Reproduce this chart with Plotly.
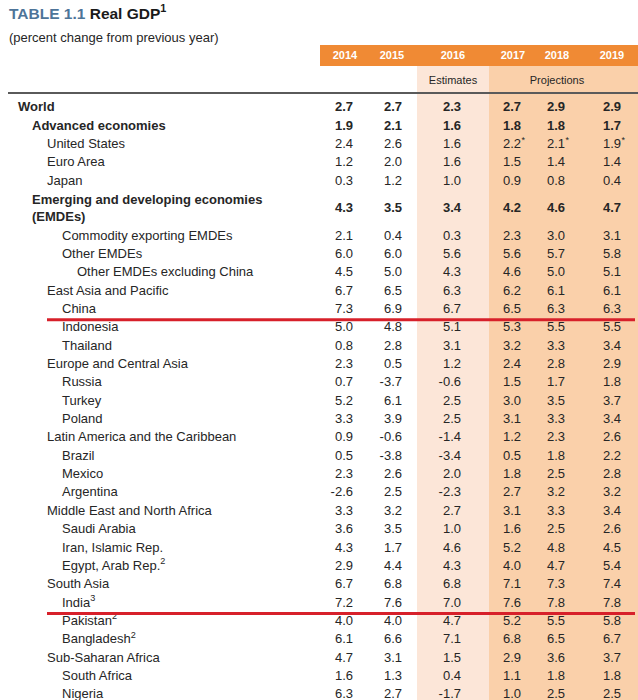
import plotly.graph_objects as go

# ---------------- data ----------------
years = ["2014", "2015", "2016", "2017", "2018", "2019"]
row_labels = [
    "World", "Advanced economies", "United States", "Euro Area", "Japan",
    "Emerging and developing economies<br>(EMDEs)",
    "Commodity exporting EMDEs", "Other EMDEs", "Other EMDEs excluding China",
    "East Asia and Pacific", "China", "Indonesia", "Thailand",
    "Europe and Central Asia", "Russia", "Turkey", "Poland",
    "Latin America and the Caribbean", "Brazil", "Mexico", "Argentina",
    "Middle East and North Africa", "Saudi Arabia", "Iran, Islamic Rep.", "Egypt, Arab Rep.",
    "South Asia", "India", "Pakistan", "Bangladesh",
    "Sub-Saharan Africa", "South Africa", "Nigeria",
]
row_level = [0, 1, 2, 2, 2, 1, 3, 3, 4, 2, 3, 3, 3, 2, 3, 3, 3, 2, 3, 3, 3,
             2, 3, 3, 3, 2, 3, 3, 3, 2, 3, 3]
row_bold = [True, True, False, False, False, True] + [False] * 26
label_notes = {"Egypt, Arab Rep.": "2", "India": "3", "Pakistan": "2", "Bangladesh": "2"}
value_notes = {"United States": ["", "", "", "*", "*", "*"]}

v2014 = [2.7, 1.9, 2.4, 1.2, 0.3, 4.3, 2.1, 6.0, 4.5, 6.7, 7.3, 5.0, 0.8, 2.3, 0.7, 5.2, 3.3,
         0.9, 0.5, 2.3, -2.6, 3.3, 3.6, 4.3, 2.9, 6.7, 7.2, 4.0, 6.1, 4.7, 1.6, 6.3]
v2015 = [2.7, 2.1, 2.6, 2.0, 1.2, 3.5, 0.4, 6.0, 5.0, 6.5, 6.9, 4.8, 2.8, 0.5, -3.7, 6.1, 3.9,
         -0.6, -3.8, 2.6, 2.5, 3.2, 3.5, 1.7, 4.4, 6.8, 7.6, 4.0, 6.6, 3.1, 1.3, 2.7]
v2016 = [2.3, 1.6, 1.6, 1.6, 1.0, 3.4, 0.3, 5.6, 4.3, 6.3, 6.7, 5.1, 3.1, 1.2, -0.6, 2.5, 2.5,
         -1.4, -3.4, 2.0, -2.3, 2.7, 1.0, 4.6, 4.3, 6.8, 7.0, 4.7, 7.1, 1.5, 0.4, -1.7]
v2017 = [2.7, 1.8, 2.2, 1.5, 0.9, 4.2, 2.3, 5.6, 4.6, 6.2, 6.5, 5.3, 3.2, 2.4, 1.5, 3.0, 3.1,
         1.2, 0.5, 1.8, 2.7, 3.1, 1.6, 5.2, 4.0, 7.1, 7.6, 5.2, 6.8, 2.9, 1.1, 1.0]
v2018 = [2.9, 1.8, 2.1, 1.4, 0.8, 4.6, 3.0, 5.7, 5.0, 6.1, 6.3, 5.5, 3.3, 2.8, 1.7, 3.5, 3.3,
         2.3, 1.8, 2.5, 3.2, 3.3, 2.5, 4.8, 4.7, 7.3, 7.8, 5.5, 6.5, 3.6, 1.8, 2.5]
v2019 = [2.9, 1.7, 1.9, 1.4, 0.4, 4.7, 3.1, 5.8, 5.1, 6.1, 6.3, 5.5, 3.4, 2.9, 1.8, 3.7, 3.4,
         2.6, 2.2, 2.8, 3.2, 3.4, 2.6, 4.5, 5.4, 7.4, 7.8, 5.8, 6.7, 3.7, 1.8, 2.5]
values = [v2014, v2015, v2016, v2017, v2018, v2019]
highlight_rows = ["China", "India"]

# ---------------- layout / style ----------------
W, H = 638, 700
FONT = "Liberation Sans, Arial, Helvetica, sans-serif"
TXT = "#262626"
ORANGE = "#f08a34"
SHADE_EST = "#fce6d8"
SHADE_PROJ = "#fad0aa"
RED = "#d7202a"

col_right = [353, 402, 461, 521, 565, 621]      # right edges of value columns
col_head = [345, 392, 453, 513, 557, 612]       # header label centres
indent_x = [18, 32, 47, 62, 77]
shade_est = (417, 489)
shade_proj = (489, W)

# y axis in "text line" units
PITCH = 18.344
Y0_PX = 106.0
TEXT_DY = 2.0 / PITCH
def px2row(p):
    return (p - Y0_PX) / PITCH

# row positions from line counts (two-line label takes two lines)
row_y = []
line = 0
for lab in row_labels:
    n = lab.count("<br>") + 1
    row_y.append(line + (n - 1) / 2 + TEXT_DY)
    line += n

fig = go.Figure()

# shading and header band
fig.add_shape(type="rect", x0=shade_est[0], x1=shade_est[1], y0=px2row(66), y1=px2row(H),
              fillcolor=SHADE_EST, line_width=0, layer="below")
fig.add_shape(type="rect", x0=shade_proj[0], x1=shade_proj[1], y0=px2row(66), y1=px2row(H),
              fillcolor=SHADE_PROJ, line_width=0, layer="below")
fig.add_shape(type="rect", x0=320, x1=W, y0=px2row(45), y1=px2row(66),
              fillcolor=ORANGE, line_width=0, layer="below")
fig.add_shape(type="line", x0=8, x1=W, y0=px2row(93), y1=px2row(93),
              line=dict(color="#5a5a5a", width=2))

# labels
lab_text = []
for lab, b in zip(row_labels, row_bold):
    t = lab + (f"<sup>{label_notes[lab]}</sup>" if lab in label_notes else "")
    lab_text.append(f"<b>{t}</b>" if b else t)
fig.add_trace(go.Scatter(
    x=[indent_x[l] for l in row_level], y=row_y, text=lab_text, mode="text",
    textposition="middle right", textfont=dict(family=FONT, size=13, color=TXT),
    hoverinfo="skip", showlegend=False, cliponaxis=False))

# values
for ci, (yr, vals) in enumerate(zip(years, values)):
    txt = [f"<b>{v:.1f}</b>" if b else f"{v:.1f}" for v, b in zip(vals, row_bold)]
    fig.add_trace(go.Scatter(
        x=[col_right[ci]] * len(vals), y=row_y, text=txt, mode="text",
        textposition="middle left", textfont=dict(family=FONT, size=13, color=TXT),
        hoverinfo="skip", showlegend=False, cliponaxis=False))
    # footnote asterisks
    nx, ny, nt = [], [], []
    for lab, y in zip(row_labels, row_y):
        if lab in value_notes and value_notes[lab][ci]:
            nx.append(col_right[ci] + 0.5)
            ny.append(y - 0.22)
            nt.append(value_notes[lab][ci])
    if nx:
        fig.add_trace(go.Scatter(
            x=nx, y=ny, text=nt, mode="text", textposition="middle right",
            textfont=dict(family=FONT, size=9, color=TXT),
            hoverinfo="skip", showlegend=False, cliponaxis=False))

# header years
fig.add_trace(go.Scatter(
    x=col_head, y=[px2row(56)] * len(years), text=[f"<b>{y}</b>" for y in years],
    mode="text", textposition="middle center",
    textfont=dict(family=FONT, size=11, color="white"),
    hoverinfo="skip", showlegend=False, cliponaxis=False))
fig.add_trace(go.Scatter(
    x=[col_head[2], col_head[4]], y=[px2row(81)] * 2, text=["Estimates", "Projections"],
    mode="text", textposition="middle center",
    textfont=dict(family=FONT, size=11, color=TXT),
    hoverinfo="skip", showlegend=False, cliponaxis=False))

# red highlight lines under China and India
for name in highlight_rows:
    y = row_y[row_labels.index(name)] + 0.55
    fig.add_shape(type="line", x0=47, x1=635, y0=y, y1=y,
                  line=dict(color=RED, width=3))

# title and subtitle
fig.add_annotation(x=7, y=px2row(12), xanchor="left", yanchor="middle", showarrow=False,
                   text="<span style='color:#4d7499'>TABLE 1.1</span> Real GDP<sup>1</sup>",
                   font=dict(family=FONT, size=15.5, color="#1a1a1a", weight="bold"))
fig.add_annotation(x=7, y=px2row(37), xanchor="left", yanchor="middle", showarrow=False,
                   text="(percent change from previous year)",
                   font=dict(family=FONT, size=13, color=TXT))

fig.update_xaxes(range=[0, W], visible=False, fixedrange=True)
fig.update_yaxes(range=[px2row(H), px2row(0)], visible=False, fixedrange=True)
fig.update_layout(width=W, height=H, margin=dict(l=0, r=0, t=0, b=0),
                  plot_bgcolor="white", paper_bgcolor="white")

fig.write_html("out.html", config={"displayModeBar": False},
               post_script="document.body.style.margin='0';document.body.style.overflow='hidden';")
